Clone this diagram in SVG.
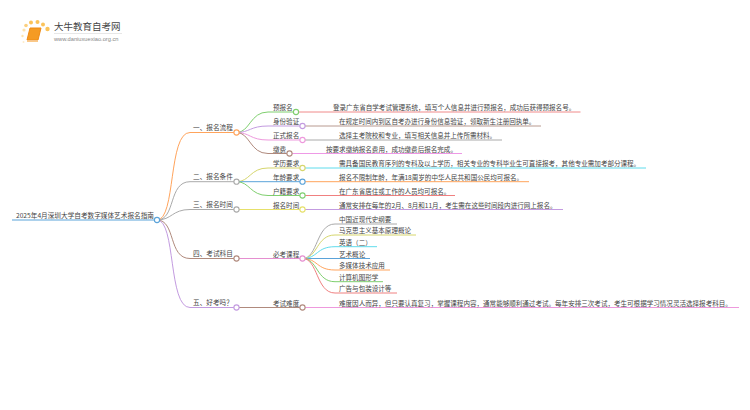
<svg xmlns="http://www.w3.org/2000/svg" width="750" height="410" viewBox="0 0 750 410">
<style>
text{font-family:"Noto Sans CJK SC","Liberation Sans",sans-serif;font-size:6.55px;fill:#444}
.l1{font-size:6.65px}
path{fill:none;stroke-width:1}
circle{fill:#fff;stroke-width:1.1}
.dot{stroke:none}
</style>
<rect width="750" height="410" fill="#fff"/>
<g id="logo">
<circle class="dot" cx="24" cy="30" r="1.6" style="fill:#fde3ae"/>
<circle class="dot" cx="22.500" cy="36" r="1.2" style="fill:#fde3ae"/>
<circle class="dot" cx="26" cy="25.500" r="1.800" style="fill:#fbd07f"/>
<circle class="dot" cx="31" cy="22.500" r="2" style="fill:#fbc35a"/>
<circle class="dot" cx="37.500" cy="22" r="2" style="fill:#fbc35a"/>
<circle class="dot" cx="43" cy="24.500" r="2" style="fill:#fbc35a"/>
<circle class="dot" cx="47.500" cy="29" r="2.200" style="fill:#fbc35a"/>
<circle class="dot" cx="23.500" cy="42" r="1" style="fill:#fdeccb"/>
<path d="M30 28H41L38 40H27Z" style="fill:#f59b23;stroke:#ee8a14"/>
<path d="M27 41.500H38" style="stroke:#fbc987;stroke-width:1"/>
<text x="54" y="30" style="font-size:9.500px;fill:#444">大牛教育自考网</text>
<path d="M54 33.500H122" style="stroke:#ddd;stroke-width:.7"/>
<text x="54" y="41" style="font-size:5.700px;fill:#888;font-family:'Liberation Sans',sans-serif">www.daniuxuexiao.org.cn</text>
</g>
<g id="connectors">
<path stroke="#ffa45c" d="M157 220C176 220 168 132.500 190 132.500H236.500"/>
<path stroke="#aaa" d="M157 220C176 220 168 181.700 190 181.700H236.500"/>
<path stroke="#aaa" d="M157 220C172 220 172 209.500 190 209.500H236.500"/>
<path stroke="#b08a7d" d="M157 220C176 220 168 258.500 190 258.500H236.500"/>
<path stroke="#c39be0" d="M157 220C176 220 168 307.500 190 307.500H236.500"/>
<path stroke="#5ba3d9" stroke-width="1.2" d="M12 220H157"/>
<path stroke="#7fcf6f" d="M236.500 132.500C250 132.500 250 112 268 112H296"/>
<path stroke="#c39be0" d="M236.500 132.500C250 132.500 250 126 268 126H302.500"/>
<path stroke="#ee99dd" d="M236.500 132.500C250 132.500 250 140 268 140H302.500"/>
<path stroke="#b08a7d" d="M236.500 132.500C250 132.500 250 153.500 268 153.500H289.500"/>
<path stroke="#d6d66d" d="M236.500 181.700C250 181.700 250 168 268 168H302.500"/>
<path stroke="#5ba3d9" d="M236.500 181.700H302.500"/>
<path stroke="#7fcf6f" d="M236.500 181.700C250 181.700 250 195.500 268 195.500H302.500"/>
<path stroke="#e6e06a" d="M236.500 209.500H302.500"/>
<path stroke="#e58fd0" d="M236.500 258.500H302.500"/>
<path stroke="#b08a7d" d="M236.500 307.500H302.500"/>
<path stroke="#f08a8a" d="M296 112H580.500"/>
<path stroke="#b89a90" d="M302.500 126H541"/>
<path stroke="#aaa" d="M302.500 140H502"/>
<path stroke="#ee99e6" d="M289.500 153.500H462"/>
<path stroke="#5fdcec" d="M302.500 168H646"/>
<path stroke="#ffa45c" d="M302.500 181.700H529"/>
<path stroke="#f08080" d="M302.500 195.500H455"/>
<path stroke="#c39be0" d="M302.500 209.500H563"/>
<path stroke="#ee99dd" d="M302.500 307.500H739"/>
<path stroke="#aaa" d="M302.500 258.500C318 258.500 316 224 335 224H397"/>
<path stroke="#d6d66d" d="M302.500 258.500C318 258.500 316 235 335 235H416"/>
<path stroke="#5fdcec" d="M302.500 258.500C318 258.500 316 246.700 335 246.700H377"/>
<path stroke="#5ba3d9" d="M302.500 258.500H370"/>
<path stroke="#ffa45c" d="M302.500 258.500C318 258.500 316 270 335 270H390"/>
<path stroke="#7fcf6f" d="M302.500 258.500C318 258.500 316 281.700 335 281.700H383"/>
<path stroke="#f08080" d="M302.500 258.500C318 258.500 316 293 335 293H397"/>
</g>
<g id="root"><text x="16" y="218" style="font-size:6.650px">2025年4月深圳大学自考数字媒体艺术报名指南</text><circle cx="157" cy="220" r="2.600" stroke="#5ba3d9"/></g>
<g id="n1"><text class="l1" x="193" y="130">一、报名流程</text><circle cx="236.500" cy="132.500" r="2.600" stroke="#ffa45c"/></g>
<g id="n2"><text class="l1" x="193" y="179">二、报名条件</text><circle cx="236.500" cy="181.700" r="2.600" stroke="#aaa"/></g>
<g id="n3"><text class="l1" x="193" y="207">三、报名时间</text><circle cx="236.500" cy="209.500" r="2.600" stroke="#aaa"/></g>
<g id="n4"><text class="l1" x="193" y="256">四、考试科目</text><circle cx="236.500" cy="258.500" r="2.600" stroke="#b08a7d"/></g>
<g id="n5"><text class="l1" x="193" y="305">五、好考吗？</text><circle cx="236.500" cy="307.500" r="2.600" stroke="#c39be0"/></g>
<g id="a1"><text x="273" y="110">预报名</text><circle cx="296" cy="112" r="2.600" stroke="#7fcf6f"/></g>
<g id="a2"><text x="273" y="124">身份验证</text><circle cx="302.500" cy="126" r="2.600" stroke="#c39be0"/></g>
<g id="a3"><text x="273" y="138">正式报名</text><circle cx="302.500" cy="140" r="2.600" stroke="#ee99dd"/></g>
<g id="a4"><text x="273" y="151.500">缴费</text><circle cx="289.500" cy="153.500" r="2.600" stroke="#b08a7d"/></g>
<g id="b1"><text x="273" y="166">学历要求</text><circle cx="302.500" cy="168" r="2.600" stroke="#d6d66d"/></g>
<g id="b2"><text x="273" y="179.700">年龄要求</text><circle cx="302.500" cy="181.700" r="2.600" stroke="#5ba3d9"/></g>
<g id="b3"><text x="273" y="193.500">户籍要求</text><circle cx="302.500" cy="195.500" r="2.600" stroke="#7fcf6f"/></g>
<g id="c1"><text x="273" y="207.500">报名时间</text><circle cx="302.500" cy="209.500" r="2.600" stroke="#e6e06a"/></g>
<g id="d1"><text x="273" y="256.500">必考课程</text><circle cx="302.500" cy="258.500" r="2.600" stroke="#e58fd0"/></g>
<g id="e1"><text x="273" y="305.500">考试难度</text><circle cx="302.500" cy="307.500" r="2.600" stroke="#b08a7d"/></g>
<g id="leaves">
<text x="333" y="110">登录广东省自学考试管理系统，填写个人信息并进行预报名，成功后获得预报名号。</text>
<text x="339" y="124">在规定时间内到区自考办进行身份信息验证，领取新生注册回执单。</text>
<text x="339" y="138">选择主考院校和专业，填写相关信息并上传所需材料。</text>
<text x="326" y="151.500">按要求缴纳报名费用，成功缴费后报名完成。</text>
<text x="339" y="166">需具备国民教育序列的专科及以上学历，相关专业的专科毕业生可直接报考，其他专业需加考部分课程。</text>
<text x="339" y="179.700">报名不限制年龄，年满18周岁的中华人民共和国公民均可报名。</text>
<text x="339" y="193.500">在广东省居住或工作的人员均可报名。</text>
<text x="339" y="207.500">通常安排在每年的2月、8月和11月，考生需在这些时间段内进行网上报名。</text>
<text x="339" y="222">中国近现代史纲要</text>
<text x="339" y="233">马克思主义基本原理概论</text>
<text x="339" y="244.700">英语（二）</text>
<text x="339" y="256.500">艺术概论</text>
<text x="339" y="268">多媒体技术应用</text>
<text x="339" y="279.700">计算机图形学</text>
<text x="339" y="291">广告与包装设计等</text>
<text x="339" y="305.500">难度因人而异，但只要认真复习，掌握课程内容，通常能够顺利通过考试。每年安排三次考试，考生可根据学习情况灵活选择报考科目。</text>
</g>
</svg>
